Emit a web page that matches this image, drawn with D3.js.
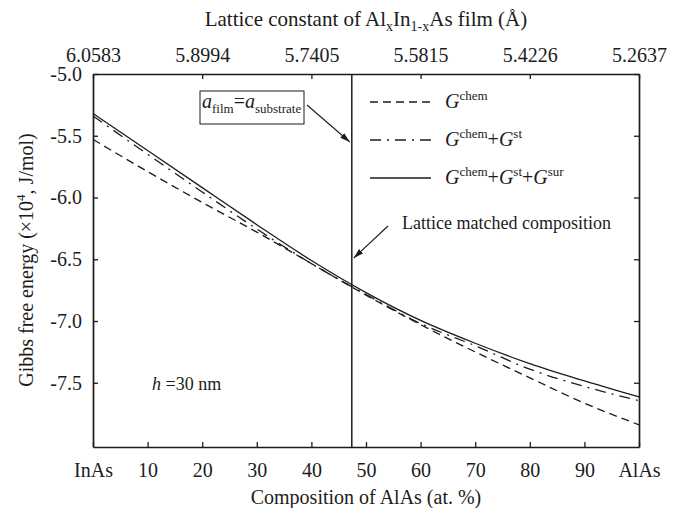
<!DOCTYPE html>
<html>
<head>
<meta charset="utf-8">
<script src="https://cdn.jsdelivr.net/npm/d3@7"></script>
<style>
  body { margin: 0; background: #fff; }
  svg { display: block; font-family: "Liberation Serif", "Times New Roman", serif; }
</style>
</head>
<body>
<svg id="chart"></svg>
<script>
const width = 680;
const height = 508;

// composition of AlAs (at. %) and the three Gibbs curves (x10^4 J/mol)
const composition = [0, 10, 20, 30, 40, 50, 60, 70, 80, 90, 100];
const gChem = [-5.53, -5.79, -6.04, -6.28, -6.535, -6.79, -7.03, -7.25, -7.46, -7.665, -7.84];
const gChemSt = [-5.34, -5.65, -5.955, -6.255, -6.535, -6.785, -7.02, -7.2, -7.39, -7.53, -7.645];
const gTotal = [-5.32, -5.62, -5.92, -6.22, -6.51, -6.77, -6.995, -7.18, -7.345, -7.485, -7.615];

const compTicks = [0, 10, 20, 30, 40, 50, 60, 70, 80, 90, 100];
const compLabels = ["InAs", "10", "20", "30", "40", "50", "60", "70", "80", "90", "AlAs"];
const latticeTicks = [0, 20, 40, 60, 80, 100];
const latticeLabels = ["6.0583", "5.8994", "5.7405", "5.5815", "5.4226", "5.2637"];
const energyTicks = [-5.0, -5.5, -6.0, -6.5, -7.0, -7.5];
const matchedComp = 47.4;

const ink = "#1c1c1c";

const svg = d3.select("#chart").attr("width", width).attr("height", height);

const x = d3.scaleLinear().domain([0, 100]).range([93, 639]);
const y = d3.scaleLinear().domain([-8.02, -5.0]).range([447, 74]);

// writes a text with italic / sub / superscript parts
function rich(text, parts) {
  let shift = 0;
  parts.forEach((p) => {
    const target = p.sup ? -(p.raise || 8) : p.sub ? (p.drop || 5) : 0;
    const ts = text.append("tspan").text(p.t).attr("dy", target - shift);
    shift = target;
    if (p.sup || p.sub) ts.attr("font-size", p.size || 13);
    if (p.it) ts.attr("font-style", "italic");
  });
  return text;
}

function styleAxis(g) {
  g.select(".domain").attr("stroke", ink).attr("stroke-width", 1.7);
  g.selectAll(".tick line").attr("stroke", ink).attr("stroke-width", 1.3);
  g.selectAll(".tick text").attr("fill", ink).attr("font-size", 20)
    .attr("font-family", "Liberation Serif");
}

// axes
svg.append("g")
  .attr("transform", `translate(0,${y(-8.02)})`)
  .call(d3.axisBottom(x).tickValues(compTicks).tickSize(-5).tickSizeOuter(0)
    .tickPadding(16).tickFormat((d, i) => compLabels[i]))
  .call(styleAxis);

svg.append("g")
  .attr("transform", `translate(0,${y(-5.0)})`)
  .call(d3.axisTop(x).tickValues(latticeTicks).tickSize(-5).tickSizeOuter(0)
    .tickPadding(12).tickFormat((d, i) => latticeLabels[i]))
  .call(styleAxis);

svg.append("g")
  .attr("transform", `translate(${x(0)},0)`)
  .call(d3.axisLeft(y).tickValues(energyTicks).tickSize(-5).tickSizeOuter(0)
    .tickPadding(11).tickFormat((d) => d.toFixed(1)))
  .call(styleAxis);

svg.append("g")
  .attr("transform", `translate(${x(100)},0)`)
  .call(d3.axisRight(y).tickValues(energyTicks).tickSize(-5).tickSizeOuter(0)
    .tickFormat(""))
  .call(styleAxis);

// lattice matched line
svg.append("line")
  .attr("x1", x(matchedComp)).attr("x2", x(matchedComp))
  .attr("y1", y(-5.0)).attr("y2", y(-8.02))
  .attr("stroke", ink).attr("stroke-width", 1.5);

// curves
const series = [
  { values: gChem, dash: "8,5" },
  { values: gChemSt, dash: "11,6,2,6" },
  { values: gTotal, dash: null },
];

const line = d3.line()
  .x((d, i) => x(composition[i]))
  .y((d) => y(d))
  .curve(d3.curveMonotoneX);

series.forEach((s) => {
  svg.append("path")
    .datum(s.values)
    .attr("d", line)
    .attr("fill", "none")
    .attr("stroke", ink)
    .attr("stroke-width", 1.3)
    .attr("stroke-dasharray", s.dash);
});

// legend
const legendParts = [
  [{ t: "G", it: true }, { t: "chem", sup: true }],
  [{ t: "G", it: true }, { t: "chem", sup: true }, { t: "+" }, { t: "G", it: true }, { t: "st", sup: true }],
  [{ t: "G", it: true }, { t: "chem", sup: true }, { t: "+" }, { t: "G", it: true }, { t: "st", sup: true },
    { t: "+" }, { t: "G", it: true }, { t: "sur", sup: true }],
];
const legendY = [102, 140, 178];

series.forEach((s, i) => {
  svg.append("line")
    .attr("x1", 370).attr("x2", 431)
    .attr("y1", legendY[i]).attr("y2", legendY[i])
    .attr("stroke", ink).attr("stroke-width", 1.3)
    .attr("stroke-dasharray", s.dash);
  rich(svg.append("text")
    .attr("x", 445).attr("y", legendY[i] + 6)
    .attr("font-size", 20).attr("fill", ink), legendParts[i]);
});

// annotations
svg.append("defs").append("marker")
  .attr("id", "arrow")
  .attr("viewBox", "0 0 10 6")
  .attr("refX", 10).attr("refY", 3)
  .attr("markerWidth", 10).attr("markerHeight", 6)
  .attr("markerUnits", "userSpaceOnUse")
  .attr("orient", "auto")
  .append("path")
  .attr("d", "M0,0 L10,3 L0,6 Z")
  .attr("fill", ink);

svg.append("rect")
  .attr("x", 200).attr("y", 91).attr("width", 104).attr("height", 33)
  .attr("fill", "none").attr("stroke", ink).attr("stroke-width", 1);

rich(svg.append("text").attr("x", 202).attr("y", 108).attr("font-size", 20).attr("fill", ink), [
  { t: "a", it: true }, { t: "film", sub: true }, { t: "=" }, { t: "a", it: true }, { t: "substrate", sub: true },
]);

svg.append("line")
  .attr("x1", 307).attr("y1", 105).attr("x2", x(matchedComp) - 2).attr("y2", 142)
  .attr("stroke", ink).attr("stroke-width", 1.1).attr("marker-end", "url(#arrow)");

svg.append("text")
  .attr("x", 402).attr("y", 229)
  .attr("font-size", 18).attr("fill", ink)
  .text("Lattice matched composition");

svg.append("line")
  .attr("x1", 388).attr("y1", 226).attr("x2", x(matchedComp) + 2).attr("y2", 258)
  .attr("stroke", ink).attr("stroke-width", 1.1).attr("marker-end", "url(#arrow)");

rich(svg.append("text").attr("x", 152).attr("y", 390).attr("font-size", 18).attr("fill", ink), [
  { t: "h", it: true }, { t: " =30 nm" },
]);

// axis titles
rich(svg.append("text")
  .attr("x", 366).attr("y", 26)
  .attr("text-anchor", "middle").attr("font-size", 21).attr("fill", ink), [
  { t: "Lattice constant of Al" }, { t: "x", sub: true, size: 14 }, { t: "In" },
  { t: "1-x", sub: true, size: 14 }, { t: "As film (Å)" },
]);

svg.append("text")
  .attr("x", 366).attr("y", 504)
  .attr("text-anchor", "middle").attr("font-size", 20).attr("fill", ink)
  .text("Composition of AlAs (at. %)");

rich(svg.append("text")
  .attr("transform", "rotate(-90)")
  .attr("x", -260).attr("y", 33)
  .attr("text-anchor", "middle").attr("font-size", 20).attr("fill", ink), [
  { t: "Gibbs free energy (×10" }, { t: "4", sup: true }, { t: ", J/mol)" },
]);
</script>
</body>
</html>
